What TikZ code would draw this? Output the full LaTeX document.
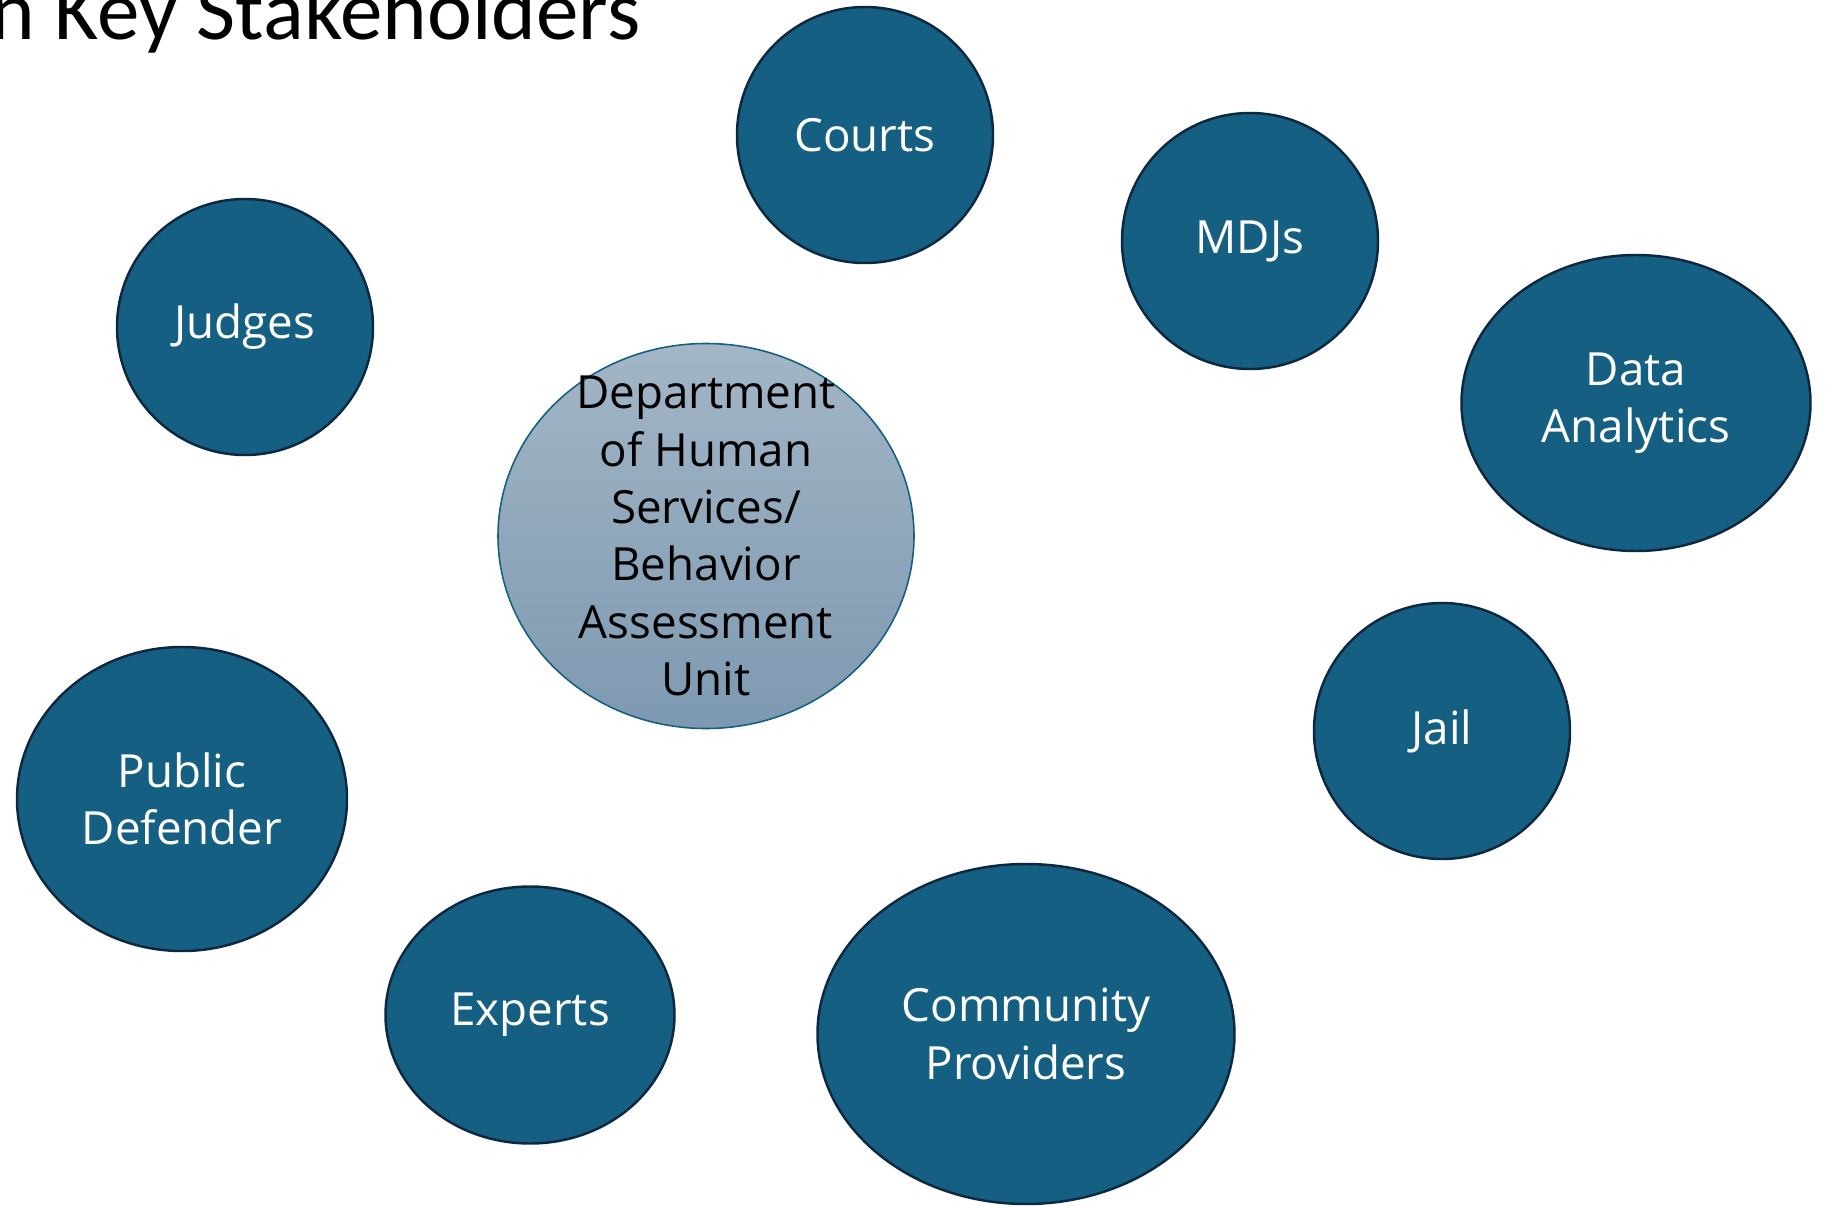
\documentclass[tikz,border=0pt]{standalone}
\usepackage{fontspec}
\setmainfont{Open Sans}
\newfontfamily\titlefont{Carlito}
\usetikzlibrary{shapes.geometric}

\definecolor{stakeblue}{HTML}{156082}
\definecolor{stakeline}{HTML}{0E2841}
\definecolor{hubtop}{HTML}{A3B6C6}
\definecolor{hubbottom}{HTML}{7D99B1}

\begin{document}
\begin{tikzpicture}[x=0.01cm,y=-0.01cm,
  stake/.style 2 args={ellipse,draw=stakeline,line width=0.7pt,fill=stakeblue,text=white,
    minimum width=#1*0.01cm,minimum height=#2*0.01cm,inner sep=0pt,align=center,
    font=\fontsize{13}{16.3}\selectfont},
  hub/.style={ellipse,draw=stakeblue,line width=0.45pt,top color=hubtop,bottom color=hubbottom,
    minimum width=416*0.01cm,minimum height=385*0.01cm,inner sep=0pt},
  hubtext/.style={inner sep=0pt,align=center,text=black,font=\fontsize{13}{16.3}\selectfont}]

\useasboundingbox (0,0) rectangle (1826,1206);

% title, cut at the left and top edge
\node [anchor=base west,inner sep=0pt,font=\titlefont\fontsize{24.2}{29}\selectfont] (title) at (-10,39) {n Key Stakeholders};

% hub
\node [hub] (dhs) at (706,536) {};
\node [hubtext] (dhstext) at (dhs.center) {Department\\of Human\\Services/\\Behavior\\Assessment\\Unit};

% stakeholders
\node [stake={256}{256}] (courts)    at ( 865, 135) {Courts};
\node [stake={256}{256}] (mdjs)      at (1250, 241) {MDJs};
\node [stake={349}{296}] (data)      at (1636, 403) {Data\\Analytics};
\node [stake={256}{256}] (judges)    at ( 245, 327) {Judges};
\node [stake={256}{256}] (jail)      at (1442, 731) {Jail};
\node [stake={330}{304}] (pd)        at ( 182, 799) {Public\\Defender};
\node [stake={289}{257}] (experts)   at ( 530,1015) {Experts};
\node [stake={417}{340}] (community) at (1026,1034) {Community\\Providers};

\end{tikzpicture}
\end{document}
